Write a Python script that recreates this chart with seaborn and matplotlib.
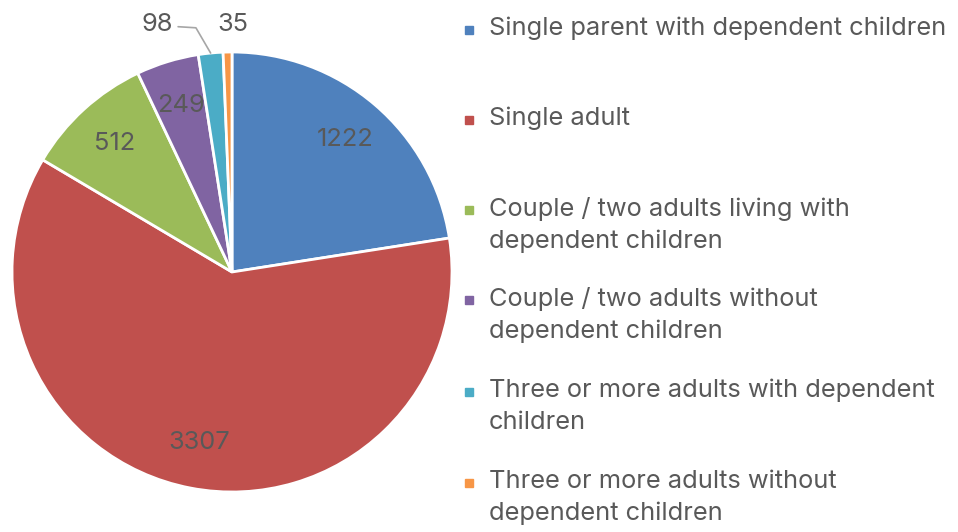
import numpy as np
import matplotlib
matplotlib.use("Agg")
import matplotlib.pyplot as plt
import seaborn as sns

# household types and counts
categories = [
    "Single parent with dependent children",
    "Single adult",
    "Couple / two adults living with\ndependent children",
    "Couple / two adults without\ndependent children",
    "Three or more adults with dependent\nchildren",
    "Three or more adults without\ndependent children",
]
counts = [1222, 3307, 512, 249, 98, 35]
colors = ["#4F81BD", "#C0504D", "#9BBB59", "#8064A2", "#4BACC6", "#F79646"]

sns.set_theme(style="white")
plt.rcParams["font.family"] = ["Inter", "DejaVu Sans"]
text_color = "#595959"
fs = 18.3

fig = plt.figure(figsize=(9.58, 5.32), dpi=100)
ax = fig.add_axes([12 / 958, 40 / 532, 440 / 958, 440 / 532])

wedges, texts = ax.pie(
    counts,
    labels=[str(c) for c in counts],
    colors=sns.color_palette(colors),
    startangle=90,
    counterclock=False,
    labeldistance=0.79,
    wedgeprops=dict(edgecolor="white", linewidth=2),
    textprops=dict(color=text_color, fontsize=fs),
)
for t in texts:
    t.set_ha("center")
    t.set_va("center")

# small slices get labels outside the pie
w98, t98 = wedges[4], texts[4]
mid = np.deg2rad((w98.theta1 + w98.theta2) / 2)
t98.set_position((-0.34, 1.125))
px, py = np.cos(mid), np.sin(mid)
ax.plot([px, -0.164, -0.245], [py, 1.11, 1.115], color="#A6A6A6", lw=1.2, clip_on=False)
texts[5].set_position((0.005, 1.125))

ax.set_xlim(-1, 1)
ax.set_ylim(-1, 1)
ax.axis("off")

# legend, evenly spaced like Excel
H = 532
legend_tops = [30, 120, 210, 300, 392, 483]
for lab, col, y in zip(categories, colors, legend_tops):
    fig.text(489 / 958, 1 - (y - 13) / H, lab, color=text_color, fontsize=fs,
             va="top", ha="left", linespacing=1.47)
    fig.patches.append(plt.Rectangle((465 / 958, 1 - (y + 4) / H), 8 / 958, 8 / H,
                                     transform=fig.transFigure, color=col))

fig.savefig("out.png", dpi=100)
